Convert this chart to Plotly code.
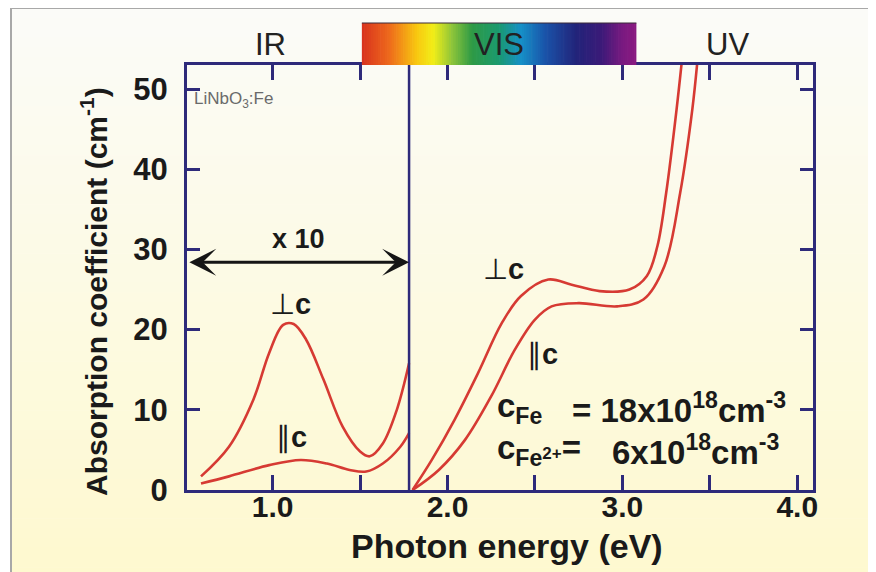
import plotly.graph_objects as go

# ---------------- data ----------------
ir_perp_x = [0.59, 0.75, 0.89, 0.98, 1.06, 1.12, 1.19, 1.29, 1.40, 1.50, 1.555, 1.63, 1.71, 1.78]
ir_perp_y = [1.7, 5.4, 11.3, 17.1, 20.6, 20.7, 18.8, 13.8, 7.9, 4.8, 4.2, 5.8, 10.0, 15.8]

ir_par_x = [0.59, 0.75, 0.98, 1.16, 1.31, 1.44, 1.535, 1.63, 1.73, 1.78]
ir_par_y = [0.8, 1.7, 3.1, 3.75, 3.3, 2.5, 2.3, 3.3, 5.4, 7.1]

vis_perp_x = [1.80, 1.91, 2.04, 2.175, 2.31, 2.42, 2.576, 2.71, 2.87, 3.04, 3.14, 3.20, 3.25, 3.31, 3.34]
vis_perp_y = [0.0, 3.75, 8.75, 14.6, 20.8, 24.2, 26.25, 25.6, 24.8, 25.0, 26.7, 30.4, 37.0, 47.5, 53.5]

vis_par_x = [1.80, 1.95, 2.10, 2.25, 2.385, 2.50, 2.595, 2.75, 2.97, 3.12, 3.24, 3.33, 3.40, 3.43]
vis_par_y = [0.0, 2.5, 6.25, 11.7, 17.5, 21.25, 22.9, 23.3, 22.9, 23.75, 27.9, 37.0, 47.5, 53.75]

x_tickvals = [1.0, 1.5, 2.0, 2.5, 3.0, 3.5, 4.0]
x_ticktext = ["1.0", "", "2.0", "", "3.0", "", "4.0"]
y_tickvals = [0, 10, 20, 30, 40, 50]
y_ticktext = ["0", "10", "20", "30", "40", "50"]

x_split = 1.78          # IR / VIS panel separator (eV)
vis_band = [1.51, 3.08]  # extent of visible rainbow (eV)
scale_arrow_y = 28.4

# ---------------- layout constants ----------------
OFF = 8                      # page body margin of the html page
PAGE_W, PAGE_H = 876, 572
W, H = PAGE_W - OFF, PAGE_H - OFF
# plot area in page pixels: left 187, right 813, top 65, bottom 490
ML, MT = 187 - OFF, 65 - OFF
MR, MB = W - (813 - OFF), H - (490 - OFF)
PW, PH = W - ML - MR, H - MT - MB
XR = [0.51, 4.09]
YR = [0, 53]

NAVY = "#2e2a7a"
RED = "#d63a33"
FONT = "Liberation Sans"


def px2paper_x(px):   # page pixel -> paper
    return (px - OFF - ML) / PW


def py2paper_y(py):
    return (H - MB - (py - OFF)) / PH


def hexmix(c1, c2, t):
    a = [int(c1[i:i + 2], 16) for i in (1, 3, 5)]
    b = [int(c2[i:i + 2], 16) for i in (1, 3, 5)]
    return "#%02x%02x%02x" % tuple(round(a[k] + (b[k] - a[k]) * t) for k in range(3))


shapes = []
# background gradient (top near white -> bottom pale yellow)
top_c, bot_c = "#fbfbf8", "#fef9cf"
n_bands = 58
fy0, fy1 = 8, PAGE_H + 5
for i in range(n_bands):
    p0 = fy0 + (fy1 - fy0) * i / n_bands
    p1 = fy0 + (fy1 - fy0) * (i + 1) / n_bands + 0.6
    shapes.append(dict(type="rect", xref="paper", yref="paper", layer="below",
                       x0=px2paper_x(11), x1=px2paper_x(PAGE_W + 5),
                       y0=py2paper_y(p1), y1=py2paper_y(p0),
                       fillcolor=hexmix(top_c, bot_c, i / (n_bands - 1)), line_width=0))
# gray frame
shapes.append(dict(type="rect", xref="paper", yref="paper", layer="below",
                   x0=px2paper_x(11), x1=px2paper_x(PAGE_W + 10),
                   y0=py2paper_y(PAGE_H + 10), y1=py2paper_y(8),
                   line=dict(color="#a8a8a8", width=2), fillcolor="rgba(0,0,0,0)"))

# rainbow bar
stops = [(0.0, "#d8321e"), (0.10, "#ee6a1c"), (0.20, "#f8c810"), (0.26, "#f2ee18"),
         (0.33, "#8cc43a"), (0.40, "#2f9a45"), (0.50, "#1a9a70"), (0.58, "#1690c8"),
         (0.67, "#1a52a8"), (0.78, "#22247a"), (0.87, "#3a1a78"), (0.95, "#7a1a80"),
         (1.0, "#8a1a80")]


def rainbow(t):
    for k in range(len(stops) - 1):
        t0, c0 = stops[k]
        t1, c1 = stops[k + 1]
        if t <= t1:
            return hexmix(c0, c1, (t - t0) / (t1 - t0))
    return stops[-1][1]


n_rb = 120
rb_y0, rb_y1 = py2paper_y(65), py2paper_y(23)
for i in range(n_rb):
    xa = vis_band[0] + (vis_band[1] - vis_band[0]) * i / n_rb
    xb = vis_band[0] + (vis_band[1] - vis_band[0]) * (i + 1) / n_rb + 0.004
    shapes.append(dict(type="rect", xref="x", yref="paper", layer="above",
                       x0=xa, x1=min(xb, vis_band[1]), y0=rb_y0, y1=rb_y1,
                       fillcolor=rainbow((i + 0.5) / n_rb), line_width=0))
shapes.append(dict(type="line", xref="x", yref="paper", layer="above",
                   x0=vis_band[0], x1=vis_band[1], y0=rb_y1, y1=rb_y1,
                   line=dict(color="#3a2a3a", width=1.2)))

# panel separator
shapes.append(dict(type="line", xref="x", yref="y", layer="above",
                   x0=x_split, x1=x_split, y0=YR[0], y1=YR[1],
                   line=dict(color=NAVY, width=2.5)))

fig = go.Figure()
for xs, ys in [(ir_perp_x, ir_perp_y), (ir_par_x, ir_par_y),
               (vis_perp_x, vis_perp_y), (vis_par_x, vis_par_y)]:
    fig.add_trace(go.Scatter(x=xs, y=ys, mode="lines",
                             line=dict(color=RED, width=2.6, shape="spline", smoothing=1.0),
                             hoverinfo="skip", showlegend=False))

ann = []


def txt(text, x, y, size, xref="x", yref="y", xanchor="center", yanchor="middle",
        color="#1a1a1a", bold=False, angle=0):
    ann.append(dict(text=("<b>%s</b>" % text) if bold else text, x=x, y=y, xref=xref, yref=yref,
                    xanchor=xanchor, yanchor=yanchor, showarrow=False, textangle=angle,
                    font=dict(family=FONT, size=size, color=color)))


# top labels
txt("IR", px2paper_x(270), py2paper_y(45), 31, xref="paper", yref="paper", color="#222222")
txt("VIS", px2paper_x(499), py2paper_y(45), 31, xref="paper", yref="paper", color="#222222")
txt("UV", px2paper_x(727), py2paper_y(45), 31, xref="paper", yref="paper", color="#222222")

txt("LiNbO<sub>3</sub>:Fe", 0.54, 48.6, 17, xanchor="left", color="#6a6a6a")
txt("x 10", 1.145, 31.3, 27, bold=True)

txt("⊥<b>c</b>", 1.10, 23.2, 29)
txt("∥<b>c</b>", 1.11, 6.6, 29)
txt("⊥<b>c</b>", 2.32, 27.6, 29)
txt("∥<b>c</b>", 2.545, 16.9, 29)

txt("c<sub>Fe</sub>", 2.27, 10.2, 33, xanchor="left", bold=True)
txt("= 18x10<sup>18</sup>cm<sup>-3</sup>", 2.70, 10.2, 33, xanchor="left", bold=True)
txt("c<sub>Fe</sub><span style='font-size:17px'>2+</span>=", 2.27, 5.0, 33, xanchor="left", bold=True)
txt("6x10<sup>18</sup>cm<sup>-3</sup>", 2.93, 5.0, 33, xanchor="left", bold=True)

# axis titles
txt("Absorption coefficient (cm<sup>-1</sup>)", px2paper_x(94), py2paper_y(292), 30,
    xref="paper", yref="paper", bold=True, angle=-90)
txt("Photon energy (eV)", px2paper_x(507), py2paper_y(546), 34,
    xref="paper", yref="paper", bold=True)

# x10 scale arrow
ann.append(dict(x=x_split, y=scale_arrow_y, ax=XR[0] + 0.005, ay=scale_arrow_y,
                xref="x", yref="y", axref="x", ayref="y", text="", showarrow=True,
                arrowhead=3, startarrowhead=3, arrowside="end+start",
                arrowsize=1.6, startarrowsize=1.6, arrowwidth=2.8,
                arrowcolor="#151515", standoff=0, startstandoff=0))

fig.update_layout(
    width=W, height=H,
    margin=dict(l=ML, r=MR, t=MT, b=MB, pad=0),
    paper_bgcolor="#ffffff",
    plot_bgcolor="rgba(0,0,0,0)",
    shapes=shapes,
    annotations=ann,
    showlegend=False,
    xaxis=dict(range=XR, showgrid=False, zeroline=False,
               showline=True, linecolor=NAVY, linewidth=3, mirror="ticks",
               ticks="inside", ticklen=15, tickwidth=3, tickcolor=NAVY,
               tickvals=x_tickvals, ticktext=x_ticktext,
               tickfont=dict(family=FONT, size=30, color="#1a1a1a", weight="bold"),
               ticklabelstandoff=-12),
    yaxis=dict(range=YR, showgrid=False, zeroline=False,
               showline=True, linecolor=NAVY, linewidth=3, mirror="ticks",
               ticks="inside", ticklen=13, tickwidth=3, tickcolor=NAVY,
               tickvals=y_tickvals, ticktext=y_ticktext,
               tickfont=dict(family=FONT, size=31, color="#1a1a1a", weight="bold"),
               ticklabelstandoff=10),
)

fig.write_html("out.html")
